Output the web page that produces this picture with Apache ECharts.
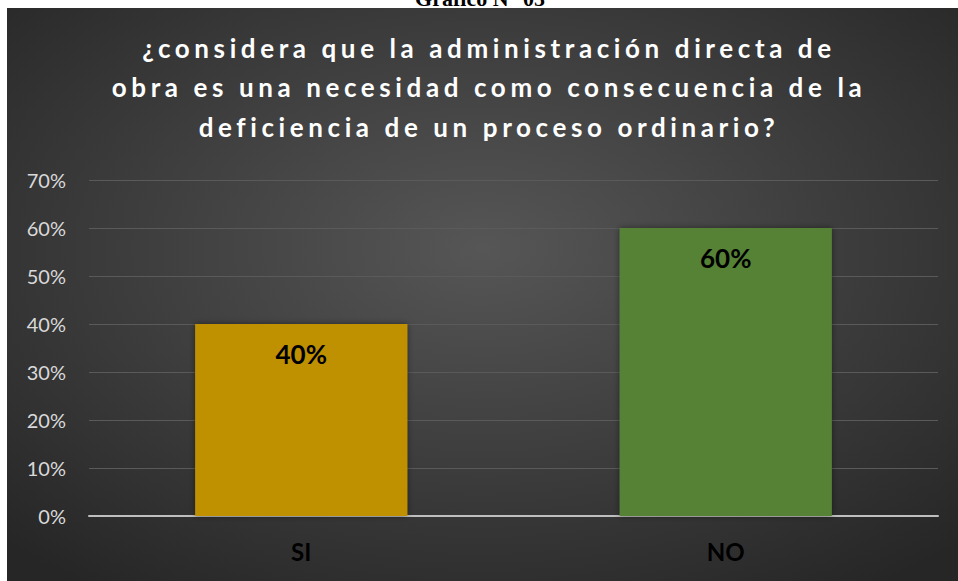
<!DOCTYPE html>
<html>
<head>
<meta charset="utf-8">
<script src="https://cdn.jsdelivr.net/npm/echarts@6/dist/echarts.min.js"></script>
<style>
  html, body { margin: 0; padding: 0; background: #fff; }
  #chart { width: 958px; height: 581px; }
  /* spaced-out title letters, only the title names Open Sans as fallback */
  #chart text[style*="Open Sans"] { letter-spacing: 4.6px; }
</style>
</head>
<body>
<div id="chart"></div>
<script>
const categories = ['SI', 'NO'];
const percentages = [40, 60];
const barColors = ['#bf9000', '#548235'];
const yMax = 70;
const titleText = '¿considera que la administración directa de\nobra es una necesidad como consecuencia de la\ndeficiencia de un proceso ordinario?';
const captionText = 'Gráfico N° 05';

const myChart = echarts.init(document.getElementById('chart'), null, { renderer: 'svg' });
myChart.setOption({
    animation: false,
    backgroundColor: '#ffffff',
    graphic: [
        {
            type: 'text',
            z: -20,
            style: {
                text: captionText,
                x: 480, y: 9,
                align: 'center',
                verticalAlign: 'bottom',
                font: 'bold 22px "Liberation Serif", serif',
                fill: '#000'
            }
        },
        {
            type: 'rect',
            z: -10,
            shape: { x: 7, y: 8, width: 951, height: 573 },
            style: {
                fill: new echarts.graphic.RadialGradient(0.5, 0.42, 0.72, [
                    { offset: 0, color: '#565656' },
                    { offset: 1, color: '#262626' }
                ])
            }
        }
    ],
    title: {
        text: titleText,
        left: 484,
        top: 23,
        textAlign: 'center',
        textStyle: {
            fontFamily: 'Lato, "Open Sans"',
            fontSize: 26,
            fontWeight: 'bold',
            color: '#ffffff',
            lineHeight: 39.5
        }
    },
    grid: { left: 89, right: 20, top: 180, bottom: 65 },
    xAxis: {
        type: 'category',
        data: categories,
        axisLine: { lineStyle: { color: '#bfbfbf', width: 2 } },
        axisTick: { show: false },
        axisLabel: {
            margin: 23,
            fontFamily: 'Lato',
            fontSize: 24,
            fontWeight: 'bold',
            color: '#000'
        }
    },
    yAxis: {
        type: 'value',
        min: 0,
        max: yMax,
        interval: 10,
        axisLine: { show: false },
        axisTick: { show: false },
        splitLine: { lineStyle: { color: '#5a5a5a', width: 1 } },
        axisLabel: {
            formatter: '{value}%',
            margin: 23,
            fontFamily: 'Lato',
            fontSize: 20,
            color: '#d9d9d9'
        }
    },
    series: [{
        type: 'bar',
        barWidth: '50%',
        data: percentages.map((v, i) => ({ value: v, itemStyle: { color: barColors[i] } })),
        itemStyle: { shadowBlur: 6, shadowColor: 'rgba(0,0,0,0.45)' },
        label: {
            show: true,
            position: 'insideTop',
            distance: 17,
            formatter: '{c}%',
            fontFamily: 'Lato',
            fontSize: 26,
            fontWeight: 'bold',
            color: '#000'
        }
    }]
});
</script>
</body>
</html>
